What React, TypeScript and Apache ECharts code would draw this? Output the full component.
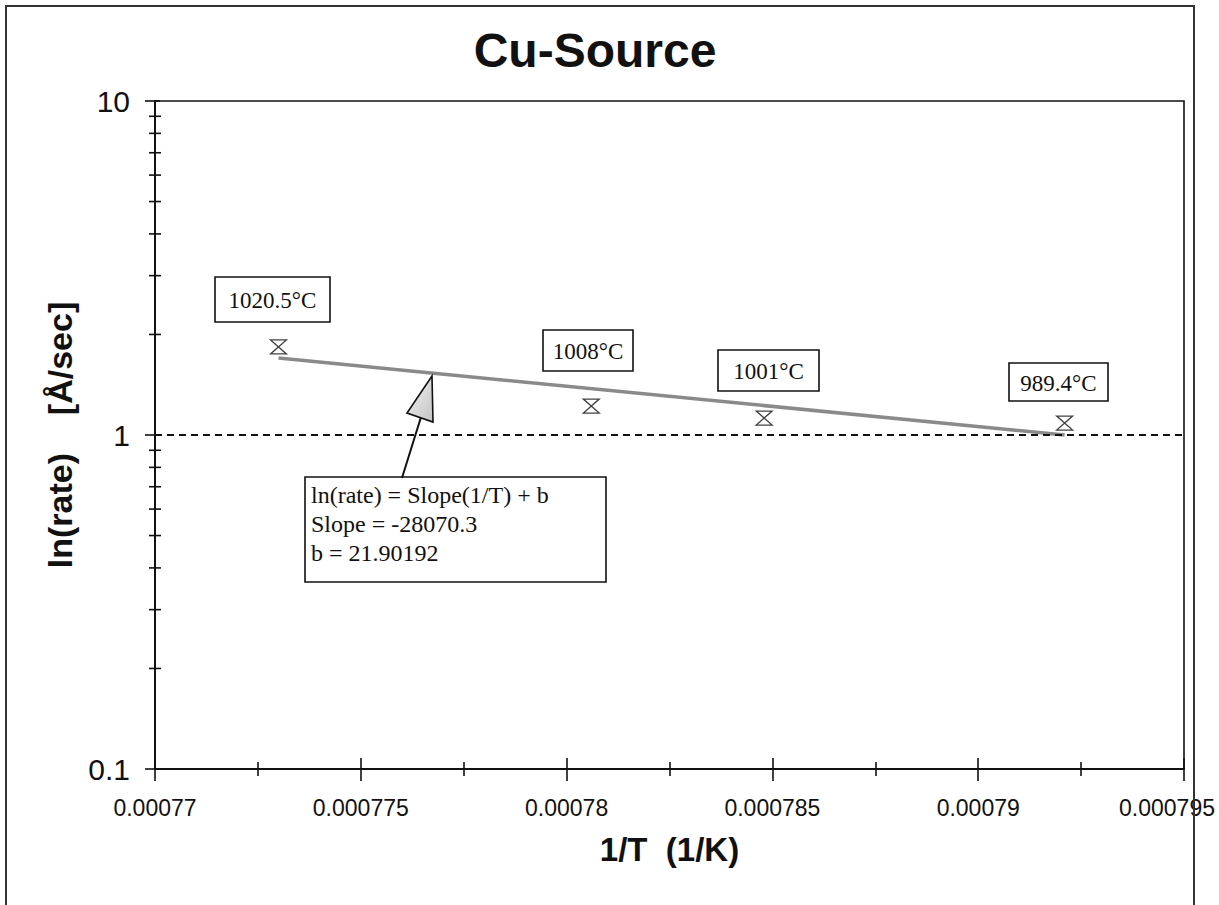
import React, { useEffect, useRef } from "react";
import * as echarts from "echarts";

// ---- data ----
const invT = [0.000773, 0.0007806, 0.0007848, 0.0007921];
const rate = [1.835, 1.221, 1.124, 1.086];
const tempLabels = ["1020.5°C", "1008°C", "1001°C", "989.4°C"];
const trendX = [0.000773, 0.0007921];
const trendY = [1.7, 1.0];
const yMinorTicks = [0.2, 0.3, 0.4, 0.5, 0.6, 0.7, 0.8, 0.9, 2, 3, 4, 5, 6, 7, 8, 9];
const equationLines = ["ln(rate) = Slope(1/T) + b", "Slope = -28070.3", "b = 21.90192"];

const X_MIN = 0.00077;
const X_MAX = 0.000795;
const X_STEP = 0.000005;
const Y_MIN = 0.1;
const Y_MAX = 10;

const SANS = "'Liberation Sans', Arial, sans-serif";
const SERIF = "'Liberation Serif', 'Times New Roman', serif";
const INK = "#111";

// annotation boxes (pixel layout of the labels)
const tempBoxes = [
  { x: 215, y: 277, w: 115, h: 45 },
  { x: 543, y: 330, w: 90, h: 41 },
  { x: 718, y: 350, w: 101, h: 41 },
  { x: 1009, y: 363, w: 99, h: 38 },
];

export default function App() {
  const ref = useRef<HTMLDivElement>(null);
  useEffect(() => {
    document.body.style.margin = "0";
    if (!ref.current) return;
    const chart = echarts.init(ref.current, undefined, { renderer: "svg" });

    const xAxisBase = {
      type: "value",
      min: X_MIN,
      max: X_MAX,
      interval: X_STEP,
      position: "bottom",
      splitLine: { show: false },
    };
    const yAxisBase = {
      type: "log",
      logBase: 10,
      min: Y_MIN,
      max: Y_MAX,
      position: "left",
      splitLine: { show: false },
    };

    const graphics: any[] = [
      {
        type: "rect",
        shape: { x: 6, y: 6, width: 1188, height: 1000 },
        style: { fill: "none", stroke: "#333", lineWidth: 2 },
        z: 1,
        silent: true,
      },
    ];
    tempLabels.forEach((t, i) => {
      const b = tempBoxes[i];
      graphics.push({
        type: "rect",
        shape: { x: b.x, y: b.y, width: b.w, height: b.h },
        style: { fill: "#fff", stroke: INK, lineWidth: 1.6 },
        z: 50,
      });
      graphics.push({
        type: "text",
        x: b.x + b.w / 2,
        y: b.y + b.h / 2 + 1,
        style: {
          text: t,
          fontSize: 23,
          fontFamily: SERIF,
          fill: INK,
          align: "center",
          verticalAlign: "middle",
        },
        z: 51,
      });
    });
    // equation box
    graphics.push({
      type: "rect",
      shape: { x: 305, y: 477, width: 301, height: 105 },
      style: { fill: "#fff", stroke: INK, lineWidth: 1.6 },
      z: 50,
    });
    const eqY = [495, 524, 553];
    equationLines.forEach((line, i) => {
      graphics.push({
        type: "text",
        x: 311,
        y: eqY[i],
        style: {
          text: line,
          fontSize: 24,
          fontFamily: SERIF,
          fill: INK,
          align: "left",
          verticalAlign: "middle",
        },
        z: 51,
      });
    });
    // arrow
    graphics.push({
      type: "line",
      shape: { x1: 402, y1: 478, x2: 421, y2: 417 },
      style: { stroke: INK, lineWidth: 2 },
      z: 52,
    });
    graphics.push({
      type: "polygon",
      shape: {
        points: [
          [432, 376],
          [407, 413],
          [433, 422],
        ],
      },
      style: {
        fill: new echarts.graphic.LinearGradient(0, 0, 1, 1, [
          { offset: 0, color: "#f4f4f4" },
          { offset: 1, color: "#c4c4c4" },
        ]),
        stroke: INK,
        lineWidth: 1.6,
      },
      z: 52,
    });

    const xLabelFormatter = (v: number) => {
      const s = String(Number(v.toPrecision(6)));
      return Math.abs(v - X_MAX) < 1e-12 ? `{last|${s}}` : s;
    };

    chart.setOption({
      animation: false,
      backgroundColor: "#fff",
      title: {
        text: "Cu-Source",
        left: 595,
        top: 26,
        padding: 0,
        textAlign: "center",
        textStyle: { fontSize: 48, fontWeight: "bold", fontFamily: SANS, color: INK },
      },
      grid: {
        left: 155,
        right: 35,
        top: 101,
        bottom: 136,
        containLabel: false,
        outerBoundsMode: "none",
        show: true,
        borderColor: INK,
        borderWidth: 1.6,
        backgroundColor: "transparent",
      },
      xAxis: [
        {
          ...xAxisBase,
          name: "1/T  (1/K)",
          nameLocation: "middle",
          nameGap: 64,
          nameTextStyle: { fontSize: 33, fontWeight: "bold", fontFamily: SANS, color: INK },
          axisLine: { show: true, lineStyle: { color: INK, width: 2 } },
          axisTick: { show: true, inside: false, length: 12, lineStyle: { color: INK, width: 1.6 } },
          minorTick: { show: true, splitNumber: 2, length: 7, lineStyle: { color: INK, width: 1.6 } },
          axisLabel: {
            show: true,
            margin: 27,
            fontSize: 23,
            fontFamily: SANS,
            color: INK,
            formatter: xLabelFormatter,
            rich: {
              last: { fontSize: 23, fontFamily: SANS, color: INK, padding: [0, 34, 0, 0] },
            },
          },
        },
        {
          ...xAxisBase,
          axisLine: { show: false },
          axisTick: { show: true, inside: true, length: 11, lineStyle: { color: INK, width: 1.6 } },
          minorTick: { show: true, splitNumber: 2, length: 7, lineStyle: { color: INK, width: 1.6 } },
          axisLabel: { show: false },
        },
      ],
      yAxis: [
        {
          ...yAxisBase,
          name: "ln(rate)    [Å/sec]",
          nameLocation: "middle",
          nameGap: 76,
          nameRotate: 90,
          nameTextStyle: { fontSize: 34, fontWeight: "bold", fontFamily: SANS, color: INK },
          axisLine: { show: true, lineStyle: { color: INK, width: 2 } },
          axisTick: { show: true, inside: false, length: 10, lineStyle: { color: INK, width: 1.6 } },
          axisLabel: { show: true, margin: 25, fontSize: 30, fontFamily: SANS, color: INK },
        },
        {
          ...yAxisBase,
          axisLine: { show: false },
          axisTick: { show: true, inside: true, length: 5, lineStyle: { color: INK, width: 1.6 } },
          axisLabel: { show: false },
        },
      ],
      series: [
        {
          type: "line",
          name: "trend",
          data: trendX.map((x, i) => [x, trendY[i]]),
          showSymbol: false,
          symbol: "none",
          lineStyle: { color: "#8a8a8a", width: 3.5 },
          z: 3,
          silent: true,
        },
        {
          type: "scatter",
          name: "rate",
          data: invT.map((x, i) => [x, rate[i]]),
          symbol: "path://M0,0L10,0L0,10L10,10Z",
          symbolSize: [16, 14],
          itemStyle: { color: "rgba(255,255,255,0)", borderColor: INK, borderWidth: 1.3 },
          z: 4,
          markLine: {
            silent: true,
            symbol: "none",
            label: { show: false },
            lineStyle: { type: [7, 5], color: INK, width: 1.8 },
            data: [{ yAxis: 1 }],
          },
        },
        {
          type: "custom",
          name: "yMinorTicks",
          silent: true,
          clip: false,
          data: yMinorTicks.map((v) => [X_MIN, v]),
          encode: { x: 0, y: 1 },
          renderItem: (params: any, api: any) => {
            const p = api.coord([X_MIN, api.value(1)]);
            return {
              type: "line",
              shape: { x1: p[0] - 6, y1: p[1], x2: p[0] + 6, y2: p[1] },
              style: { stroke: INK, lineWidth: 1.6 },
            };
          },
          z: 5,
        },
      ],
      graphic: graphics,
    });

    return () => chart.dispose();
  }, []);

  return <div ref={ref} style={{ width: 1219, height: 905 }} />;
}
